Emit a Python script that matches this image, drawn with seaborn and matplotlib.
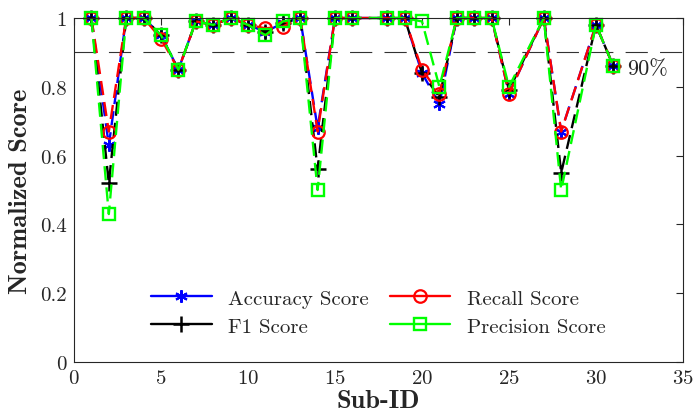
import matplotlib
matplotlib.use("Agg")
import matplotlib.pyplot as plt
import seaborn as sns
import pandas as pd

sub_ids = [1, 2, 3, 4, 5, 6, 7, 8, 9, 10, 11, 12, 13, 14, 15, 16, 18, 19, 20, 21, 22, 23, 24, 25, 27, 28, 30, 31]
accuracy = [1.0, 0.63, 1.0, 1.0, 0.95, 0.85, 0.99, 0.98, 1.0, 0.98, 0.96, 0.985, 1.0, 0.68, 1.0, 1.0, 1.0, 1.0, 0.84, 0.75, 1.0, 1.0, 1.0, 0.78, 1.0, 0.67, 0.98, 0.86]
f1 = [1.0, 0.52, 1.0, 1.0, 0.95, 0.85, 0.99, 0.98, 1.0, 0.98, 0.96, 0.985, 1.0, 0.56, 1.0, 1.0, 1.0, 1.0, 0.84, 0.77, 1.0, 1.0, 1.0, 0.79, 1.0, 0.55, 0.98, 0.86]
recall = [1.0, 0.67, 1.0, 1.0, 0.94, 0.85, 0.99, 0.98, 1.0, 0.98, 0.97, 0.975, 1.0, 0.67, 1.0, 1.0, 1.0, 1.0, 0.85, 0.78, 1.0, 1.0, 1.0, 0.78, 1.0, 0.67, 0.98, 0.86]
precision = [1.0, 0.43, 1.0, 1.0, 0.95, 0.85, 0.99, 0.98, 1.0, 0.98, 0.95, 0.99, 1.0, 0.50, 1.0, 1.0, 1.0, 1.0, 0.99, 0.80, 1.0, 1.0, 1.0, 0.80, 1.0, 0.50, 0.98, 0.86]

series_names = ["Accuracy Score", "F1 Score", "Recall Score", "Precision Score"]
threshold = 0.9
threshold_label = "90%"

sns.set_theme(style="white")
plt.rcParams["font.family"] = ["cmr10", "DejaVu Serif"]
plt.rcParams["axes.formatter.use_mathtext"] = True
plt.rcParams["mathtext.fontset"] = "cm"

fig = plt.figure(figsize=(6.95, 4.14), dpi=100)
ax = fig.add_axes([0.1065, 0.1232, 0.8762, 0.8309])

styles = [
    dict(color="#0000ff", marker=(6, 2, 0), markersize=9, markeredgewidth=1.5,
         markeredgecolor="#0000ff", markerfacecolor="#0000ff"),
    dict(color="#000000", marker="+", markersize=12, markeredgewidth=1.8,
         markeredgecolor="#000000"),
    dict(color="#ff0000", marker="o", markersize=9, markerfacecolor="none",
         markeredgewidth=1.6, markeredgecolor="#ff0000"),
    dict(color="#00ff00", marker="s", markersize=8.5, markerfacecolor="none",
         markeredgewidth=1.7, markeredgecolor="#00ff00"),
]
datasets = [accuracy, f1, recall, precision]

for name, vals, st in zip(series_names, datasets, styles):
    df = pd.DataFrame({"Sub-ID": sub_ids, "score": vals})
    sns.lineplot(data=df, x="Sub-ID", y="score", ax=ax, label=name,
                 linewidth=1.7, linestyle=(0, (6, 3)), clip_on=False, **st)

ax.axhline(threshold, color="#333333", linewidth=0.8, linestyle=(0, (20, 11)), zorder=0.5)
ax.text(31.8, 0.855, threshold_label, fontsize=16, va="center", ha="left")

ax.set_xlim(0, 35)
ax.set_ylim(0, 1)
ax.set_xticks(range(0, 36, 5))
ax.set_yticks([0, 0.2, 0.4, 0.6, 0.8, 1.0])
ax.set_yticklabels(["0", "0.2", "0.4", "0.6", "0.8", "1"])
ax.tick_params(direction="in", length=5, width=0.8, top=True, right=True, labelsize=15,
               colors="#262626", pad=5)
for sp in ax.spines.values():
    sp.set_color("#262626")
    sp.set_linewidth(0.8)

ax.set_xlabel("Sub-ID", fontsize=19, fontfamily="cmb10", labelpad=1.5)
ax.set_ylabel("Normalized Score", fontsize=19, fontfamily="cmb10", labelpad=6)

leg = ax.legend(ncol=2, loc="lower center", bbox_to_anchor=(0.5, 0.022), frameon=False,
                fontsize=15, handlelength=2.9, columnspacing=1.0, labelspacing=0.45,
                handletextpad=0.8)
for line in leg.get_lines():
    line.set_linestyle("-")

fig.savefig("out.png", dpi=100)
